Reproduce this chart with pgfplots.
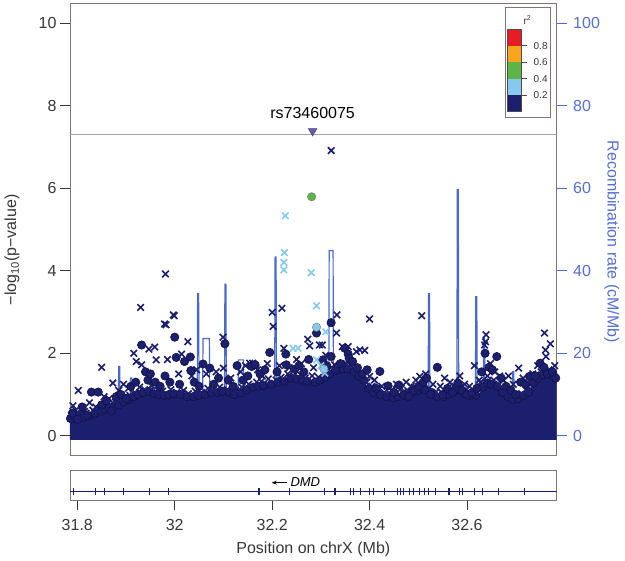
\documentclass[border=0pt]{standalone}
\usepackage{fontspec}
\setmainfont{Liberation Sans}
\usepackage{pgfplots}
\pgfplotsset{compat=1.18}
\usetikzlibrary{arrows.meta}
\definecolor{navy}{RGB}{28,30,110}
\definecolor{lblue}{RGB}{135,200,238}
\definecolor{lgreen}{RGB}{95,180,70}
\definecolor{lorange}{RGB}{250,165,30}
\definecolor{lred}{RGB}{230,30,35}
\definecolor{lead}{RGB}{105,90,170}
\definecolor{recomb}{RGB}{75,105,205}
\definecolor{framegray}{RGB}{125,118,115}
\definecolor{ticktext}{RGB}{55,55,55}
\definecolor{rtext}{RGB}{85,110,210}
\newcommand{\tfs}{\fontsize{16}{19}\selectfont}
\newcommand{\lfs}{\fontsize{10}{11}\selectfont}
\pgfplotsset{
  navyx/.style={only marks, mark=x, mark size=4.6pt, navy, mark options={line width=1.6pt}},
  navyo/.style={only marks, mark=*, mark size=4.2pt, mark options={fill=navy, draw=navy!60!black, line width=0.6pt}},
}
\begin{document}
\begin{tikzpicture}
% ---------- recombination rate (right axis), drawn first ----------
\begin{axis}[
  width=486.7pt, height=452.2pt, scale only axis,
  at={(70pt,105.3pt)}, anchor=south west,
  xmin=31.785, xmax=32.784, ymin=-4.8, ymax=104.7,
  axis x line=none, axis y line*=right,
  axis line style={-, framegray, line width=0.8pt},
  ytick={0,20,40,60,80,100}, tick align=outside, major tick length=10pt,
  every tick/.style={recomb, line width=0.8pt},
  /pgf/number format/assume math mode=true,
  yticklabel style={font=\tfs, text=rtext, xshift=3pt},
  ylabel={Recombination rate (cM/Mb)},
  ylabel style={at={(rel axis cs:1.113,0.473)}, anchor=center, rotate=180, font=\tfs, text=rtext},
]
\addplot[recomb, line width=1.2pt] coordinates {
(31.785,1.5) (31.800,3.0) (31.810,1.0) (31.825,4.0) (31.840,2.0) (31.860,5.0) (31.875,2.0)
(31.884,3.0) (31.885,16.8) (31.887,16.8) (31.888,3.0) (31.900,4.0) (31.908,4.0) (31.909,14.0)
(31.912,14.0) (31.913,4.0) (31.930,6.0) (31.950,3.0) (31.970,5.0) (31.990,2.0) (32.010,4.0)
(32.030,3.0) (32.046,4.0) (32.047,34.4) (32.049,34.4) (32.050,5.0) (32.057,5.0) (32.058,23.6)
(32.071,23.6) (32.072,8.0) (32.085,6.0) (32.102,6.0) (32.103,36.7) (32.105,36.7) (32.106,8.0)
(32.118,9.0) (32.130,9.0) (32.131,18.4) (32.141,18.4) (32.142,6.0) (32.160,4.0) (32.180,7.0)
(32.205,6.0) (32.206,43.3) (32.208,43.3) (32.209,6.0) (32.230,3.0) (32.260,5.0) (32.290,4.0)
(32.316,3.0) (32.317,44.9) (32.325,44.9) (32.326,3.0) (32.340,9.0) (32.350,2.0) (32.370,5.0)
(32.390,3.0) (32.420,4.0) (32.450,2.0) (32.480,5.0) (32.500,3.0) (32.520,6.0) (32.521,34.4)
(32.523,34.4) (32.524,4.0) (32.550,3.0) (32.579,4.0) (32.580,59.6) (32.582,59.6) (32.583,4.0)
(32.600,3.0) (32.617,5.0) (32.618,33.7) (32.620,33.7) (32.621,6.0) (32.633,6.0) (32.634,24.0)
(32.636,24.0) (32.637,5.0) (32.660,3.0) (32.680,4.0) (32.693,4.0) (32.694,15.6) (32.696,15.6)
(32.697,3.0) (32.720,4.0) (32.750,5.0) (32.784,4.0)
};
\end{axis}
% ---------- association plot ----------
\begin{axis}[
  width=486.7pt, height=452.2pt, scale only axis,
  at={(70pt,105.3pt)}, anchor=south west,
  xmin=31.785, xmax=32.784, ymin=-0.48, ymax=10.47,
  xtick=\empty, ytick={0,2,4,6,8,10}, ytick pos=left,
  tick align=outside, major tick length=10pt,
  axis line style={framegray, line width=0.8pt},
  every tick/.style={ticktext, line width=0.8pt},
  /pgf/number format/assume math mode=true,
  yticklabel style={font=\tfs, text=ticktext},
  ylabel={−log\textsubscript{10}(p−value)},
  ylabel style={at={(rel axis cs:-0.119,0.455)}, anchor=center, font=\tfs, text=ticktext},
]
% dense saturated cloud of r2<0.2 SNPs (envelope)
\addplot[fill=navy, draw=none] coordinates {
(31.785,-0.10) (31.785,0.47) (31.800,0.54) (31.820,0.50) (31.840,0.57) (31.860,0.70) (31.880,0.74)
(31.900,0.84) (31.920,0.97) (31.940,1.07) (31.960,1.02) (31.980,0.97) (32.000,1.02) (32.020,0.97)
(32.040,0.94) (32.060,1.00) (32.080,1.04) (32.100,1.07) (32.120,1.00) (32.140,1.07) (32.160,1.17)
(32.180,1.20) (32.200,1.24) (32.220,1.30) (32.240,1.40) (32.260,1.34) (32.280,1.30) (32.300,1.34)
(32.320,1.50) (32.340,1.60) (32.360,1.62) (32.380,1.44) (32.400,1.12) (32.420,1.02) (32.440,0.94)
(32.460,0.94) (32.480,0.97) (32.500,1.12) (32.520,1.14) (32.540,0.94) (32.560,0.97) (32.580,1.14)
(32.600,1.02) (32.620,0.94) (32.640,1.32) (32.660,1.24) (32.680,0.94) (32.700,0.84) (32.720,0.97)
(32.740,1.32) (32.760,1.52) (32.784,1.42) (32.784,-0.10)
};
% genome-wide significance line
\addplot[black!35, line width=0.8pt] coordinates {(31.785,7.3) (32.784,7.3)};
% r2 < 0.2: SNPs at the ragged top of the cloud
\addplot[navyo] coordinates {
(31.786,0.42) (31.795,0.48) (31.805,0.52) (31.812,0.45) (31.825,0.48) (31.836,0.55) (31.848,0.60)
(31.855,0.65) (31.865,0.68) (31.875,0.72) (31.885,0.75) (31.895,0.82) (31.905,0.88) (31.915,0.95)
(31.925,1.00) (31.935,1.05) (31.948,1.08) (31.958,1.02) (31.968,1.00) (31.978,0.98) (31.988,1.00)
(31.998,1.02) (32.012,1.00) (32.025,0.95) (32.038,0.95) (32.048,0.98) (32.062,1.00) (32.075,1.05)
(32.088,1.05) (32.098,1.08) (32.112,1.05) (32.122,1.00) (32.135,1.05) (32.148,1.12) (32.162,1.18)
(32.172,1.20) (32.182,1.22) (32.198,1.25) (32.212,1.30) (32.225,1.32) (32.238,1.40) (32.250,1.38)
(32.262,1.35) (32.272,1.32) (32.288,1.30) (32.298,1.35) (32.308,1.42) (32.318,1.50) (32.332,1.58)
(32.345,1.62) (32.355,1.62) (32.368,1.55) (32.378,1.45) (32.388,1.35) (32.398,1.15) (32.408,1.05)
(32.422,1.00) (32.435,0.95) (32.448,0.92) (32.458,0.95) (32.472,0.98) (32.485,1.02) (32.498,1.10)
(32.512,1.12) (32.528,1.05) (32.538,0.95) (32.552,0.95) (32.562,1.00) (32.575,1.10) (32.585,1.12)
(32.595,1.02) (32.605,0.98) (32.618,0.98) (32.632,1.18) (32.642,1.28) (32.650,1.25) (32.662,1.20)
(32.672,1.05) (32.684,0.95) (32.694,0.88) (32.705,0.90) (32.716,0.98) (32.726,1.05) (32.736,1.28)
(32.746,1.40) (32.756,1.48) (32.766,1.52) (32.776,1.45) (32.782,1.40)
};
\addplot[navyx] coordinates {
(31.788,0.50) (31.797,0.62) (31.806,0.45) (31.818,0.55) (31.832,0.62) (31.845,0.66) (31.858,0.78)
(31.868,0.75) (31.878,0.82) (31.888,0.86) (31.898,0.95) (31.908,0.98) (31.918,1.05) (31.928,1.18)
(31.938,1.12) (31.952,1.22) (31.966,1.10) (31.975,1.08) (31.992,1.12) (32.004,1.05) (32.018,1.10)
(32.028,1.02) (32.042,1.08) (32.055,1.05) (32.068,1.15) (32.078,1.10) (32.092,1.18) (32.108,1.12)
(32.125,1.10) (32.138,1.18) (32.152,1.25) (32.168,1.30) (32.178,1.32) (32.192,1.38) (32.208,1.35)
(32.218,1.42) (32.232,1.50) (32.244,1.45) (32.258,1.48) (32.268,1.40) (32.282,1.45) (32.295,1.42)
(32.316,1.60) (32.328,1.72) (32.338,1.68) (32.352,1.75) (32.362,1.70) (32.372,1.58) (32.384,1.45)
(32.394,1.30) (32.405,1.20) (32.418,1.12) (32.430,1.05) (32.442,1.02) (32.452,1.00) (32.468,1.05)
(32.478,1.10) (32.492,1.18) (32.508,1.22) (32.522,1.15) (32.535,1.05) (32.548,1.05) (32.558,1.08)
(32.572,1.20) (32.588,1.20) (32.598,1.12) (32.612,1.02) (32.628,1.30) (32.642,1.45) (32.655,1.35)
(32.665,1.25) (32.678,1.05) (32.688,0.98) (32.698,0.92) (32.712,1.02) (32.722,1.10) (32.732,1.30)
(32.742,1.48) (32.752,1.55) (32.768,1.60) (32.778,1.45)
};
% r2 < 0.2, scattered crosses
\addplot[navyx] coordinates {
(31.791,0.73) (31.802,1.10) (31.815,0.59) (31.825,0.80) (31.838,0.70) (31.850,1.66) (31.855,0.95)
(31.865,0.90) (31.873,1.28) (31.885,1.10) (31.895,1.25) (31.905,1.15) (31.916,2.00) (31.921,1.80)
(31.930,3.11) (31.932,1.72) (31.947,2.10) (31.959,2.15) (31.962,1.84) (31.979,2.71) (31.981,3.92)
(31.982,2.69) (31.985,1.85) (31.997,2.93) (31.999,2.91) (32.008,1.50) (32.014,1.98) (32.027,2.28)
(32.035,1.45) (32.045,1.60) (32.065,1.50) (32.085,1.55) (32.099,2.39) (32.100,1.64) (32.115,1.40)
(32.135,1.55) (32.145,1.70) (32.154,1.76) (32.160,1.76) (32.170,1.60) (32.180,1.45) (32.190,1.75)
(32.200,2.99) (32.202,2.65) (32.220,3.09) (32.215,1.70) (32.224,2.12) (32.235,1.65) (32.250,1.85)
(32.260,1.75) (32.273,2.34) (32.277,2.18) (32.285,1.65) (32.297,2.20) (32.303,2.20) (32.310,1.95)
(32.321,6.91) (32.333,2.93) (32.332,2.49) (32.344,2.16) (32.356,2.16) (32.373,2.04) (32.380,2.08)
(32.390,2.07) (32.400,1.44) (32.400,2.83) (32.410,1.35) (32.425,1.20) (32.445,1.10) (32.455,1.25)
(32.465,1.15) (32.475,1.30) (32.485,1.20) (32.495,1.35) (32.503,1.44) (32.507,2.91) (32.515,1.50)
(32.530,1.25) (32.545,1.20) (32.554,1.40) (32.565,1.30) (32.575,1.20) (32.585,1.45) (32.595,1.25)
(32.605,1.20) (32.615,1.70) (32.625,1.35) (32.636,2.20) (32.638,2.28) (32.639,2.45) (32.648,1.75)
(32.657,1.55) (32.667,1.45) (32.675,1.35) (32.685,1.45) (32.695,1.25) (32.706,1.64) (32.715,1.40)
(32.725,1.20) (32.735,1.50) (32.745,1.70) (32.759,2.49) (32.761,2.08) (32.762,1.92) (32.771,2.23)
(32.780,1.70)
};
% r2 < 0.2, scattered circles
\addplot[navyo] coordinates {
(31.790,0.55) (31.800,0.40) (31.810,0.70) (31.820,0.50) (31.829,1.06) (31.843,1.06) (31.850,0.75)
(31.860,0.85) (31.870,0.60) (31.880,0.95) (31.890,1.00) (31.900,0.90) (31.910,1.20) (31.920,1.30)
(31.932,2.20) (31.940,1.55) (31.945,1.35) (31.950,1.50) (31.960,1.30) (31.970,1.20) (31.980,1.45)
(31.990,1.30) (32.000,2.39) (32.003,1.90) (32.010,1.25) (32.020,1.80) (32.032,1.91) (32.033,1.58)
(32.040,1.30) (32.050,1.20) (32.058,1.74) (32.072,1.64) (32.080,1.25) (32.090,1.40) (32.103,2.23)
(32.110,1.35) (32.120,1.20) (32.128,1.70) (32.140,1.35) (32.150,1.45) (32.158,1.68) (32.165,1.72)
(32.175,1.50) (32.185,1.60) (32.195,2.02) (32.210,1.55) (32.228,1.98) (32.229,1.72) (32.246,1.61)
(32.255,1.70) (32.265,1.55) (32.275,1.85) (32.291,2.49) (32.304,1.84) (32.321,2.74) (32.321,1.92)
(32.312,1.70) (32.330,1.60) (32.340,1.75) (32.349,2.12) (32.356,1.98) (32.358,1.88) (32.365,1.80)
(32.375,1.65) (32.385,1.50) (32.395,1.60) (32.414,1.15) (32.421,1.56) (32.438,1.21) (32.450,1.05)
(32.460,1.23) (32.470,1.00) (32.480,0.95) (32.490,1.10) (32.500,1.20) (32.510,1.30) (32.517,1.40)
(32.525,1.00) (32.539,1.66) (32.550,1.00) (32.560,1.15) (32.570,1.05) (32.581,1.28) (32.590,1.10)
(32.600,1.00) (32.610,1.05) (32.620,1.15) (32.630,1.55) (32.637,2.00) (32.645,1.66) (32.652,1.60)
(32.661,1.92) (32.670,1.40) (32.680,1.20) (32.690,1.10) (32.700,1.00) (32.710,1.30) (32.720,1.25)
(32.728,1.44) (32.740,1.45) (32.750,1.76) (32.758,1.66) (32.765,1.50) (32.775,1.55)
};
% 0.2 <= r2 < 0.4
\addplot[only marks, mark=x, mark size=4.6pt, lblue, mark options={line width=1.6pt}] coordinates {
(32.227,5.33) (32.225,4.44) (32.224,4.20) (32.224,4.02) (32.280,3.95) (32.291,3.15) (32.243,2.12)
(32.253,2.12) (32.310,2.52) (32.308,1.52) (32.291,1.84) (32.300,1.70)
};
\addplot[only marks, mark=*, mark size=4.2pt, mark options={fill=lblue, draw=black!55}] coordinates {
(32.291,2.63) (32.306,1.62)
};
% 0.4 <= r2 < 0.6
\addplot[only marks, mark=*, mark size=4.2pt, mark options={fill=lgreen, draw=black!55}] coordinates {
(32.281,5.79)
};
% lead SNP
\addplot[only marks, mark=triangle*, mark size=5pt, mark options={fill=lead, draw=lead!70!black, rotate=180}] coordinates {
(32.283,7.38)
};
\node[font=\tfs] at (axis cs:32.283,7.82) {rs73460075};
% r2 colour key
\draw[framegray, line width=0.8pt] (axis cs:32.6784,10.38) rectangle (axis cs:32.7707,7.70);
\fill[lred] (axis cs:32.6817,9.85) rectangle (axis cs:32.7112,9.45);
\fill[lorange] (axis cs:32.6817,9.45) rectangle (axis cs:32.7112,9.05);
\fill[lgreen] (axis cs:32.6817,9.05) rectangle (axis cs:32.7112,8.65);
\fill[lblue] (axis cs:32.6817,8.65) rectangle (axis cs:32.7112,8.25);
\fill[navy] (axis cs:32.6817,8.25) rectangle (axis cs:32.7112,7.85);
\draw[black!70, line width=0.5pt] (axis cs:32.6817,9.85) rectangle (axis cs:32.7112,7.85);
\draw[black!70, line width=0.5pt] (axis cs:32.7112,9.45) -- (axis cs:32.7221,9.45);
\draw[black!70, line width=0.5pt] (axis cs:32.7112,9.05) -- (axis cs:32.7221,9.05);
\draw[black!70, line width=0.5pt] (axis cs:32.7112,8.65) -- (axis cs:32.7221,8.65);
\draw[black!70, line width=0.5pt] (axis cs:32.7112,8.25) -- (axis cs:32.7221,8.25);
\node[font=\lfs, text=ticktext] at (axis cs:32.7510,9.45) {0.8};
\node[font=\lfs, text=ticktext] at (axis cs:32.7510,9.05) {0.6};
\node[font=\lfs, text=ticktext] at (axis cs:32.7510,8.65) {0.4};
\node[font=\lfs, text=ticktext] at (axis cs:32.7510,8.25) {0.2};
\node[font=\lfs, text=ticktext] at (axis cs:32.7240,10.07) {r\textsuperscript{2}};
\end{axis}
% ---------- gene panel ----------
\begin{axis}[
  width=486.7pt, height=29.3pt, scale only axis,
  at={(70pt,61pt)}, anchor=south west,
  xmin=31.785, xmax=32.784, ymin=0, ymax=1,
  ytick=\empty, xtick={31.8,32,32.2,32.4,32.6}, xticklabels={31.8,32,32.2,32.4,32.6},
  xtick pos=left, tick align=outside, major tick length=10pt,
  axis line style={framegray, line width=0.8pt},
  every tick/.style={ticktext, line width=0.8pt},
  xticklabel style={font=\tfs, text=ticktext, yshift=-6pt},
  xlabel={Position on chrX (Mb)},
  xlabel style={at={(rel axis cs:0.5,-1.672)}, anchor=center, font=\tfs, text=ticktext},
]
\addplot[navy!80!blue, line width=1pt] coordinates {(31.785,0.28) (32.784,0.28)};
\addplot[only marks, mark=|, mark size=3.6pt, navy, mark options={line width=1.1pt}] coordinates {
(31.793,0.28) (31.838,0.28) (31.855,0.28) (31.894,0.28) (31.949,0.28) (31.987,0.28)
(32.173,0.28) (32.236,0.28) (32.307,0.28) (32.329,0.28) (32.360,0.28) (32.367,0.28)
(32.382,0.28) (32.400,0.28) (32.408,0.28) (32.431,0.28)
(32.457,0.28) (32.463,0.28) (32.469,0.28) (32.482,0.28) (32.490,0.28)
(32.503,0.28) (32.512,0.28) (32.520,0.28) (32.536,0.28) (32.563,0.28) (32.584,0.28) (32.590,0.28)
(32.615,0.28) (32.632,0.28) (32.664,0.28) (32.717,0.28)
};
\draw[-{Stealth[length=5pt,width=4pt]}, line width=0.8pt] (axis cs:32.2297,0.59) -- (axis cs:32.199,0.59);
\node[font=\fontsize{13}{15}\selectfont\itshape] at (axis cs:32.268,0.60) {DMD};
\end{axis}
\pgfresetboundingbox
\path[use as bounding box] (0pt,0pt) rectangle (625pt,561pt);
\end{tikzpicture}
\end{document}
